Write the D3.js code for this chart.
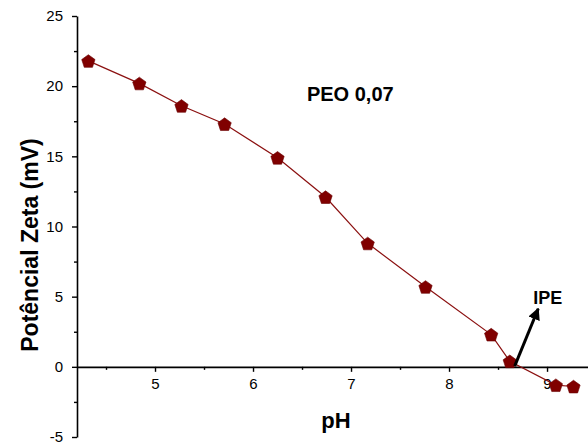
<!DOCTYPE html>
<html>
<head>
<meta charset="utf-8">
<script src="https://cdn.jsdelivr.net/npm/d3@7.9.0/dist/d3.min.js"></script>
<style>
  body { margin: 0; background: #fff; }
  svg { font-family: Arial, "Liberation Sans", sans-serif; }
</style>
</head>
<body>
<svg id="chart" width="588" height="444"></svg>
<script>
// pH readings and zeta potential (mV)
const phValues = [4.32, 4.84, 5.27, 5.71, 6.25, 6.74, 7.17, 7.76, 8.43, 8.62, 9.09, 9.27];
const zetaValues = [21.8, 20.2, 18.6, 17.3, 14.9, 12.1, 8.8, 5.7, 2.3, 0.4, -1.3, -1.4];

const xTicks = [5, 6, 7, 8, 9];
const yTicks = [-5, 0, 5, 10, 15, 20, 25];

// annotation anchors in data units
const titleLabel = { text: 'PEO 0,07', ph: 6.55, zeta: 18.95 };
const ipeLabel = { text: 'IPE', ph: 8.86, zeta: 4.5 };
const ipeArrow = [[8.67, 0.05], [8.91, 4.14]];

const svg = d3.select('#chart');

const x = d3.scaleLinear().domain([4.204, 9.418]).range([77, 588]);
const y = d3.scaleLinear().domain([-5, 25]).range([437, 16]);

const plain = d => String(d).replace('\u2212', '-');

// x axis sits on zeta = 0
svg.append('g')
  .attr('transform', `translate(0,${y(0)})`)
  .call(d3.axisBottom(x).tickValues(xTicks).tickSize(5).tickSizeOuter(0).tickPadding(7)
    .tickFormat(d3.format('d')));
svg.append('g')
  .attr('transform', `translate(0,${y(0)})`)
  .call(d3.axisBottom(x).tickValues([4.5, 5.5, 6.5, 7.5, 8.5]).tickSize(3).tickSizeOuter(0).tickFormat(''))
  .select('.domain').remove();

svg.append('g')
  .attr('transform', `translate(${x.range()[0]},0)`)
  .call(d3.axisLeft(y).tickValues(yTicks).tickSize(5).tickSizeOuter(0).tickPadding(9)
    .tickFormat(d => d < 0 ? '-' + Math.abs(d) : String(d)));
svg.append('g')
  .attr('transform', `translate(${x.range()[0]},0)`)
  .call(d3.axisLeft(y).tickValues([-2.5, 2.5, 7.5, 12.5, 17.5, 22.5]).tickSize(3).tickSizeOuter(0).tickFormat(''))
  .select('.domain').remove();

svg.selectAll('.domain').attr('stroke', '#000').attr('stroke-width', 1.6);
svg.selectAll('.tick line').attr('stroke', '#000').attr('stroke-width', 1.4);
svg.selectAll('.tick text').attr('font-size', 15).attr('fill', '#000')
  .attr('font-family', 'Arial, "Liberation Sans", sans-serif');

// axis titles
svg.append('text')
  .attr('x', 336).attr('y', 428)
  .attr('text-anchor', 'middle')
  .attr('font-size', 22).attr('font-weight', 'bold')
  .text('pH');

svg.append('text')
  .attr('transform', 'translate(38,245) rotate(-90)')
  .attr('text-anchor', 'middle')
  .attr('font-size', 23).attr('font-weight', 'bold')
  .text('Potêncial Zeta (mV)');

// data line
const pts = phValues.map((p, i) => [p, zetaValues[i]]);
svg.append('path')
  .datum(pts)
  .attr('fill', 'none')
  .attr('stroke', '#8b1010')
  .attr('stroke-width', 1.2)
  .attr('d', d3.line().x(d => x(d[0])).y(d => y(d[1])));

// pentagon markers
const pentagon = {
  draw(ctx, size) {
    const r = Math.sqrt(size / 2.378);
    for (let k = 0; k < 5; k++) {
      const a = -Math.PI / 2 + k * 2 * Math.PI / 5;
      const px = r * Math.cos(a), py = r * Math.sin(a);
      if (k === 0) ctx.moveTo(px, py); else ctx.lineTo(px, py);
    }
    ctx.closePath();
  }
};
svg.append('g').selectAll('path')
  .data(pts)
  .join('path')
  .attr('transform', d => `translate(${x(d[0])},${y(d[1]) + 0.8})`)
  .attr('d', d3.symbol(pentagon, 2.378 * 49))
  .attr('fill', '#800000')
  .attr('stroke', '#6a0000')
  .attr('stroke-width', 0.6);

// annotation
svg.append('text')
  .attr('x', x(titleLabel.ph)).attr('y', y(titleLabel.zeta))
  .attr('font-size', 20).attr('font-weight', 'bold')
  .text(titleLabel.text);

svg.append('text')
  .attr('x', x(ipeLabel.ph)).attr('y', y(ipeLabel.zeta))
  .attr('font-size', 18).attr('font-weight', 'bold')
  .text(ipeLabel.text);

svg.append('defs').append('marker')
  .attr('id', 'head')
  .attr('viewBox', '0 0 10 10')
  .attr('refX', 9).attr('refY', 5)
  .attr('markerWidth', 4).attr('markerHeight', 4)
  .attr('orient', 'auto')
  .append('path').attr('d', 'M0,0 L10,5 L0,10 z').attr('fill', '#000');

svg.append('line')
  .attr('x1', x(ipeArrow[0][0])).attr('y1', y(ipeArrow[0][1]))
  .attr('x2', x(ipeArrow[1][0])).attr('y2', y(ipeArrow[1][1]))
  .attr('stroke', '#000').attr('stroke-width', 3)
  .attr('marker-end', 'url(#head)');
</script>
</body>
</html>
